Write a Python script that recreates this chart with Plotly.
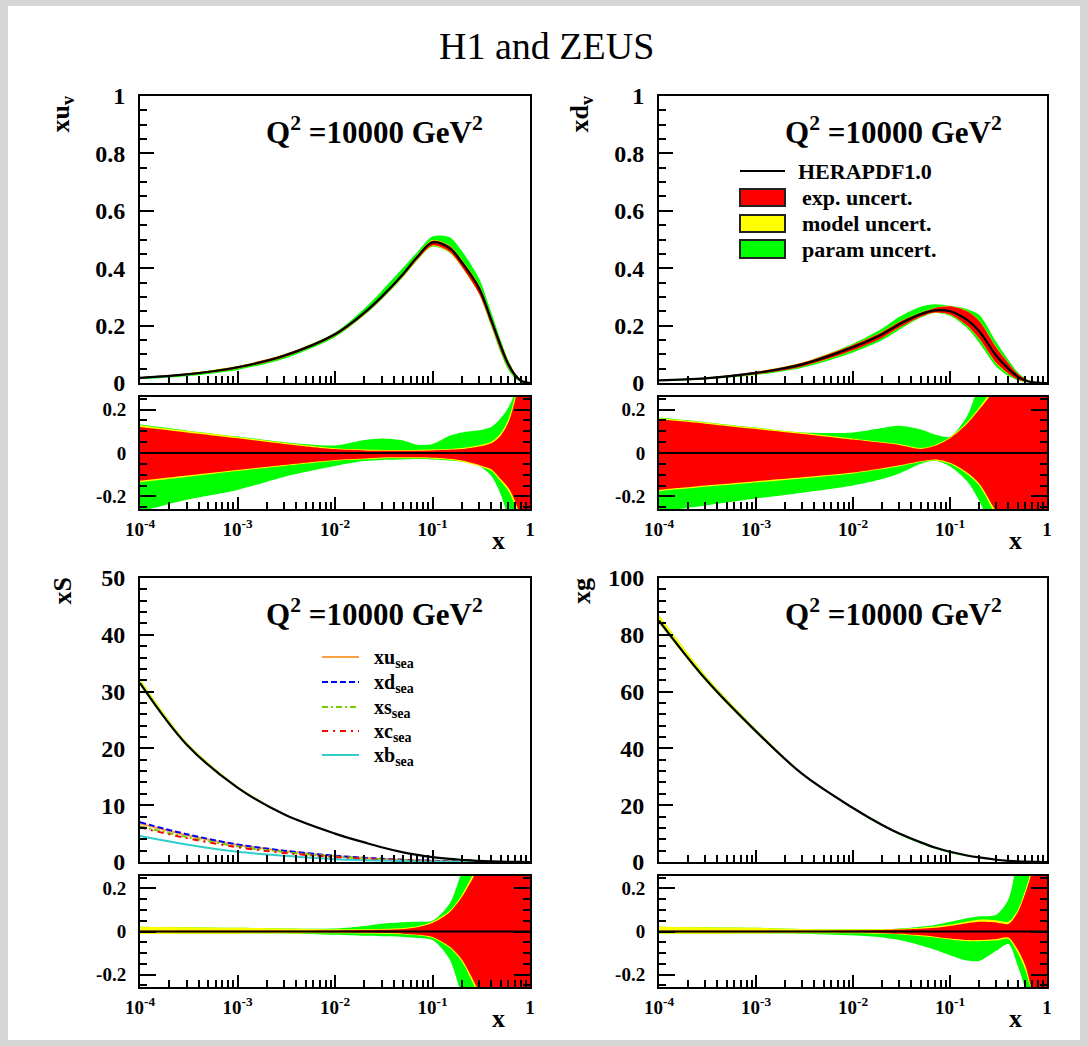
import plotly.graph_objects as go

W, H = 1088, 1046

# ---------------- data ----------------
X = [1e-4, 3e-4, 1e-3, 3e-3, 0.01, 0.02, 0.03, 0.05, 0.07, 0.1,
     0.15, 0.2, 0.3, 0.4, 0.5, 0.6, 0.7, 0.8, 0.9, 1.0]

XUV = [0.018, 0.030, 0.055, 0.095, 0.170, 0.245, 0.300, 0.380, 0.440, 0.490,
       0.470, 0.420, 0.330, 0.220, 0.130, 0.065, 0.028, 0.009, 0.002, 0.0]
XDV = [0.009, 0.016, 0.035, 0.065, 0.125, 0.170, 0.205, 0.240, 0.253, 0.250,
       0.220, 0.180, 0.095, 0.050, 0.022, 0.009, 0.003, 0.001, 0.0, 0.0]
XS = [31.5, 20.7, 13.1, 8.4, 5.0, 3.45, 2.6, 1.7, 1.25, 0.87,
      0.55, 0.40, 0.20, 0.11, 0.055, 0.028, 0.013, 0.006, 0.002, 0.0]
XG = [85.0, 64.5, 46.0, 31.0, 19.0, 13.0, 10.0, 6.9, 5.1, 3.6,
      2.3, 1.6, 0.8, 0.42, 0.21, 0.10, 0.045, 0.020, 0.006, 0.0]

XU_SEA = [6.8, 4.75, 3.0, 1.93, 1.05, 0.72, 0.55, 0.38, 0.28, 0.20,
          0.12, 0.085, 0.04, 0.022, 0.010, 0.005, 0.002, 0.001, 0.0, 0.0]
XD_SEA = [7.0, 4.9, 3.1, 2.0, 1.1, 0.75, 0.58, 0.40, 0.30, 0.21,
          0.13, 0.09, 0.045, 0.025, 0.012, 0.006, 0.003, 0.001, 0.0, 0.0]
XS_SEA = [6.3, 4.4, 2.75, 1.75, 0.95, 0.62, 0.47, 0.31, 0.22, 0.15,
          0.09, 0.06, 0.028, 0.014, 0.007, 0.003, 0.001, 0.0, 0.0, 0.0]
XC_SEA = [6.1, 4.2, 2.6, 1.6, 0.85, 0.55, 0.41, 0.27, 0.19, 0.13,
          0.075, 0.05, 0.022, 0.011, 0.005, 0.002, 0.001, 0.0, 0.0, 0.0]
XB_SEA = [4.6, 3.1, 1.8, 1.1, 0.5, 0.33, 0.25, 0.16, 0.11, 0.075,
          0.045, 0.03, 0.013, 0.006, 0.003, 0.001, 0.0, 0.0, 0.0, 0.0]

# relative uncertainties (cumulative: exp, exp+model, total)
UV_EXP_UP = [0.120, 0.095, 0.068, 0.042, 0.018, 0.012, 0.010, 0.010, 0.010, 0.012,
             0.015, 0.018, 0.030, 0.045, 0.080, 0.140, 0.240, 0.350, 0.500, 0.800]
UV_MOD_UP = [0.128, 0.102, 0.074, 0.047, 0.022, 0.016, 0.014, 0.014, 0.014, 0.016,
             0.019, 0.023, 0.036, 0.052, 0.090, 0.155, 0.260, 0.380, 0.550, 0.850]
UV_TOT_UP = [0.131, 0.104, 0.076, 0.050, 0.035, 0.060, 0.067, 0.058, 0.038, 0.042,
             0.080, 0.095, 0.105, 0.120, 0.160, 0.210, 0.280, 0.400, 0.600, 0.900]
UV_EXP_DN = [-0.128, -0.104, -0.078, -0.055, -0.032, -0.025, -0.021, -0.020, -0.020, -0.022,
             -0.027, -0.035, -0.055, -0.075, -0.120, -0.160, -0.220, -0.300, -0.500, -0.800]
UV_MOD_DN = [-0.134, -0.110, -0.083, -0.060, -0.036, -0.029, -0.025, -0.024, -0.024, -0.026,
             -0.031, -0.040, -0.061, -0.082, -0.130, -0.175, -0.240, -0.330, -0.550, -0.850]
UV_TOT_DN = [-0.270, -0.215, -0.170, -0.110, -0.060, -0.037, -0.032, -0.030, -0.028, -0.030,
             -0.035, -0.040, -0.060, -0.105, -0.190, -0.300, -0.400, -0.500, -0.700, -0.900]

DV_EXP_UP = [0.155, 0.135, 0.110, 0.088, 0.062, 0.047, 0.037, 0.019, 0.033, 0.068,
             0.135, 0.200, 0.300, 0.380, 0.450, 0.500, 0.550, 0.600, 0.700, 0.800]
DV_MOD_UP = [0.161, 0.141, 0.116, 0.093, 0.066, 0.051, 0.041, 0.023, 0.037, 0.072,
             0.142, 0.210, 0.320, 0.400, 0.470, 0.520, 0.570, 0.620, 0.720, 0.820]
DV_TOT_UP = [0.163, 0.142, 0.117, 0.094, 0.095, 0.115, 0.125, 0.108, 0.085, 0.075,
             0.170, 0.320, 0.500, 0.600, 0.700, 0.750, 0.800, 0.850, 0.900, 0.950]
DV_EXP_DN = [-0.170, -0.150, -0.130, -0.112, -0.090, -0.070, -0.057, -0.038, -0.030, -0.045,
             -0.090, -0.140, -0.270, -0.350, -0.450, -0.500, -0.550, -0.600, -0.700, -0.800]
DV_MOD_DN = [-0.176, -0.156, -0.136, -0.117, -0.094, -0.074, -0.061, -0.042, -0.034, -0.050,
             -0.097, -0.150, -0.290, -0.370, -0.470, -0.520, -0.570, -0.620, -0.720, -0.820]
DV_TOT_DN = [-0.270, -0.242, -0.210, -0.183, -0.150, -0.120, -0.095, -0.050, -0.036, -0.062,
             -0.130, -0.220, -0.400, -0.500, -0.600, -0.650, -0.700, -0.750, -0.800, -0.900]

S_EXP_UP = [0.004, 0.004, 0.004, 0.004, 0.005, 0.007, 0.008, 0.012, 0.020, 0.040,
            0.090, 0.160, 0.300, 0.400, 0.500, 0.600, 0.700, 0.800, 0.900, 1.000]
S_MOD_UP = [0.022, 0.020, 0.017, 0.014, 0.010, 0.011, 0.012, 0.016, 0.024, 0.045,
            0.096, 0.170, 0.320, 0.420, 0.520, 0.620, 0.720, 0.820, 0.920, 1.000]
S_TOT_UP = [0.022, 0.020, 0.017, 0.014, 0.014, 0.026, 0.036, 0.043, 0.045, 0.050,
            0.130, 0.280, 0.500, 0.600, 0.700, 0.750, 0.800, 0.850, 0.900, 1.000]
S_EXP_DN = [-0.004, -0.004, -0.004, -0.004, -0.005, -0.006, -0.007, -0.010, -0.015, -0.025,
            -0.070, -0.130, -0.280, -0.400, -0.500, -0.600, -0.700, -0.800, -0.900, -1.000]
S_MOD_DN = [-0.012, -0.011, -0.010, -0.009, -0.008, -0.009, -0.010, -0.013, -0.018, -0.030,
            -0.076, -0.140, -0.300, -0.420, -0.520, -0.620, -0.720, -0.820, -0.920, -1.000]
S_TOT_DN = [-0.012, -0.011, -0.010, -0.010, -0.015, -0.020, -0.022, -0.025, -0.030, -0.040,
            -0.130, -0.300, -0.500, -0.600, -0.700, -0.750, -0.800, -0.850, -0.900, -1.000]

G_EXP_UP = [0.004, 0.004, 0.004, 0.004, 0.005, 0.007, 0.009, 0.013, 0.017, 0.025,
            0.038, 0.045, 0.042, 0.035, 0.090, 0.180, 0.280, 0.450, 0.650, 0.900]
G_MOD_UP = [0.022, 0.020, 0.017, 0.012, 0.010, 0.011, 0.013, 0.018, 0.023, 0.032,
            0.047, 0.055, 0.052, 0.045, 0.100, 0.195, 0.300, 0.470, 0.670, 0.920]
G_TOT_UP = [0.022, 0.020, 0.017, 0.012, 0.010, 0.011, 0.014, 0.022, 0.030, 0.045,
            0.062, 0.070, 0.078, 0.150, 0.350, 0.500, 0.600, 0.700, 0.800, 0.950]
G_EXP_DN = [-0.004, -0.004, -0.004, -0.004, -0.005, -0.008, -0.011, -0.018, -0.024, -0.033,
            -0.040, -0.040, -0.035, -0.028, -0.085, -0.160, -0.280, -0.450, -0.650, -0.900]
G_MOD_DN = [-0.010, -0.010, -0.009, -0.008, -0.008, -0.011, -0.014, -0.022, -0.028, -0.037,
            -0.045, -0.045, -0.042, -0.035, -0.100, -0.180, -0.300, -0.470, -0.670, -0.920]
G_TOT_DN = [-0.010, -0.010, -0.009, -0.010, -0.018, -0.028, -0.040, -0.065, -0.085, -0.110,
            -0.135, -0.137, -0.090, -0.058, -0.160, -0.270, -0.400, -0.550, -0.700, -0.950]

X_TICKS = [1e-4, 1e-3, 1e-2, 1e-1, 1]
X_TICK_TEXT = ["10<sup>-4</sup>", "10<sup>-3</sup>", "10<sup>-2</sup>", "10<sup>-1</sup>", "1"]
X_MINOR = [m * 10.0 ** e for e in (-4, -3, -2, -1) for m in range(2, 10)]
R_TICKS = [-0.2, 0, 0.2]
R_TICK_TEXT = ["-0.2", "0", "0.2"]

LEG_LABELS = ["HERAPDF1.0", "exp. uncert.", "model uncert.", "param uncert."]
SEA_LABELS = ["xu<sub>sea</sub>", "xd<sub>sea</sub>", "xs<sub>sea</sub>",
              "xc<sub>sea</sub>", "xb<sub>sea</sub>"]
Q2_TEXT = "Q<sup>2</sup> =10000 GeV<sup>2</sup>"

RED, YEL, GRN = "#ff0000", "#ffff00", "#00ff00"
FONT = "Liberation Serif"

# ---------------- layout geometry (pixels) ----------------
def px(v):
    return v / W

def py(v):
    return 1 - v / H

COLS = [(140, 530), (659, 1047)]
ROWS = [((96, 383), (397, 509)), ((578, 862), (876, 987))]

panels = [
    dict(c=XUV, eu=UV_EXP_UP, mu=UV_MOD_UP, tu=UV_TOT_UP, ed=UV_EXP_DN, md=UV_MOD_DN, td=UV_TOT_DN,
         yr=[0, 1], dt=0.2, mdt=0.05, title="xu<sub>v</sub>", col=0, row=0),
    dict(c=XDV, eu=DV_EXP_UP, mu=DV_MOD_UP, tu=DV_TOT_UP, ed=DV_EXP_DN, md=DV_MOD_DN, td=DV_TOT_DN,
         yr=[0, 1], dt=0.2, mdt=0.05, title="xd<sub>v</sub>", col=1, row=0),
    dict(c=XS, eu=S_EXP_UP, mu=S_MOD_UP, tu=S_TOT_UP, ed=S_EXP_DN, md=S_MOD_DN, td=S_TOT_DN,
         yr=[0, 50], dt=10, mdt=2, title="xS", col=0, row=1),
    dict(c=XG, eu=G_EXP_UP, mu=G_MOD_UP, tu=G_TOT_UP, ed=G_EXP_DN, md=G_MOD_DN, td=G_TOT_DN,
         yr=[0, 100], dt=20, mdt=4, title="xg", col=1, row=1),
]

fig = go.Figure()
layout = dict(template="none", width=W, height=H,
              margin=dict(l=0, r=0, t=0, b=0, pad=0, autoexpand=False),
              paper_bgcolor="#d6d6d6", plot_bgcolor="white", showlegend=False,
              font=dict(family=FONT, color="black"))
shapes = [dict(type="rect", xref="paper", yref="paper", x0=px(8), x1=px(1080), y0=py(1040), y1=py(6),
               fillcolor="white", line=dict(width=0), layer="below")]
annotations = []

TICKF = dict(family=FONT, size=24, color="black", weight="bold")
TICKR = dict(family=FONT, size=19, color="black", weight="bold")
TICKX = dict(family=FONT, size=19, color="black", weight="bold")


def band(xa, ya, lo, hi, color):
    fig.add_trace(go.Scatter(x=X, y=lo, xaxis=xa, yaxis=ya, mode="lines",
                             line=dict(width=0, shape="spline", smoothing=0.8), hoverinfo="skip"))
    fig.add_trace(go.Scatter(x=X, y=hi, xaxis=xa, yaxis=ya, mode="lines", fill="tonexty",
                             fillcolor=color, line=dict(width=0, shape="spline", smoothing=0.8),
                             hoverinfo="skip"))


def note(x, y, text, size, bold=True, xanchor="center", yanchor="middle", angle=0):
    annotations.append(dict(xref="paper", yref="paper", x=px(x), y=py(y), text=text, showarrow=False,
                            xanchor=xanchor, yanchor=yanchor, textangle=angle,
                            font=dict(family=FONT, size=size, color="black",
                                      weight="bold" if bold else "normal")))


for i, p in enumerate(panels):
    nm = 2 * i + 1
    nr = 2 * i + 2
    xa_m, ya_m = f"x{nm}", f"y{nm}"
    xa_r, ya_r = f"x{nr}", f"y{nr}"
    c = p["c"]
    # main panel bands
    for up, dn, col in ((p["tu"], p["td"], GRN), (p["mu"], p["md"], YEL), (p["eu"], p["ed"], RED)):
        band(xa_m, ya_m, [v * (1 + d) for v, d in zip(c, dn)], [v * (1 + u) for v, u in zip(c, up)], col)
    if i == 2:
        for arr, colr, dash in ((XU_SEA, "#ffa040", "solid"), (XD_SEA, "#0000ff", "6px,3px"),
                                (XS_SEA, "#77cc00", "6px,3px,2px,3px"), (XC_SEA, "#ff0000", "6px,5px,2px,5px"),
                                (XB_SEA, "#33cccc", "solid")):
            fig.add_trace(go.Scatter(x=X, y=arr, xaxis=xa_m, yaxis=ya_m, mode="lines",
                                     line=dict(color=colr, width=2, dash=dash, shape="spline"),
                                     hoverinfo="skip"))
    fig.add_trace(go.Scatter(x=X, y=c, xaxis=xa_m, yaxis=ya_m, mode="lines",
                             line=dict(color="black", width=2.2, shape="spline"), hoverinfo="skip"))
    # ratio panel
    band(xa_r, ya_r, p["td"], p["tu"], GRN)
    band(xa_r, ya_r, p["md"], p["mu"], YEL)
    band(xa_r, ya_r, p["ed"], p["eu"], RED)
    fig.add_trace(go.Scatter(x=[X[0], X[-1]], y=[0, 0], xaxis=xa_r, yaxis=ya_r, mode="lines",
                             line=dict(color="black", width=2), hoverinfo="skip"))

    x0, x1 = COLS[p["col"]]
    (m0, m1), (r0, r1) = ROWS[p["row"]]
    xbase = dict(type="log", range=[-4, 0], showgrid=False, zeroline=False, showline=True, automargin=False,
                 linecolor="black", linewidth=2, mirror=True, ticks="inside", ticklen=12,
                 tickwidth=1.5, tickcolor="black", tickvals=X_TICKS, ticktext=X_TICK_TEXT,
                 tickfont=TICKX, domain=[px(x0), px(x1)],
                 minor=dict(tickmode="array", tickvals=X_MINOR, ticks="inside", ticklen=7,
                            tickwidth=1.5, tickcolor="black", showgrid=False))
    layout[f"xaxis{nm}"] = dict(xbase, anchor=ya_m, showticklabels=False)
    layout[f"xaxis{nr}"] = dict(xbase, anchor=ya_r, showticklabels=True, ticklabelstandoff=2)
    layout[f"yaxis{nm}"] = dict(range=p["yr"], domain=[py(m1), py(m0)], anchor=xa_m, showgrid=False,
                                zeroline=False, showline=True, linecolor="black", linewidth=2, mirror=True,
                                automargin=False,
                                ticks="inside", ticklen=14, tickwidth=1.5, tickcolor="black",
                                dtick=p["dt"], tick0=0, tickfont=TICKF, ticklabelstandoff=8,
                                minor=dict(dtick=p["mdt"], tick0=0, ticks="inside", ticklen=7,
                                           tickwidth=1.5, tickcolor="black", showgrid=False))
    layout[f"yaxis{nr}"] = dict(range=[-0.258, 0.258], domain=[py(r1), py(r0)], anchor=xa_r, showgrid=False,
                                zeroline=False, showline=True, linecolor="black", linewidth=2, mirror="ticks",
                                automargin=False,
                                ticks="inside", ticklen=16, tickwidth=1.5, tickcolor="black",
                                tickvals=R_TICKS, ticktext=R_TICK_TEXT, tickfont=TICKR, ticklabelstandoff=8,
                                minor=dict(dtick=0.05, tick0=0, ticks="inside", ticklen=7,
                                           tickwidth=1.5, tickcolor="black", showgrid=False))
    # annotations: Q2, y title, x label
    note(x0 + 234, m0 + 34, Q2_TEXT, 31)
    note(x0 - 78, m0 - 2, p["title"], 26, yanchor="top", angle=-90)
    note(x1 - 32, r1 + 31, "x", 26)

# title
note(546, 46, "H1 and ZEUS", 38, bold=False)

# HERAPDF legend (top-right)
shapes.append(dict(type="line", xref="paper", yref="paper", x0=px(740), x1=px(785), y0=py(171), y1=py(171),
                   line=dict(color="black", width=2)))
for (ya, yb), colr in (((189, 206), RED), ((215, 232), YEL), ((240, 258), GRN)):
    shapes.append(dict(type="rect", xref="paper", yref="paper", x0=px(740), x1=px(785), y0=py(yb), y1=py(ya),
                       fillcolor=colr, line=dict(color="#222222", width=2)))
for lab, yy, xx in zip(LEG_LABELS, (172, 198, 224, 249), (796, 800, 800, 800)):
    note(xx, yy, lab, 22, xanchor="left")

# sea legend (bottom-left)
for lab, yy, colr, dash in zip(SEA_LABELS, (657, 682, 707, 731, 755),
                               ("#ffa040", "#0000ff", "#77cc00", "#ff0000", "#33cccc"),
                               ("solid", "6px,3px", "6px,3px,2px,3px", "6px,5px,2px,5px", "solid")):
    shapes.append(dict(type="line", xref="paper", yref="paper", x0=px(322), x1=px(359), y0=py(yy), y1=py(yy),
                       line=dict(color=colr, width=2, dash=dash)))
    note(372, yy + 1, lab, 20, xanchor="left")

layout["shapes"] = shapes
layout["annotations"] = annotations
fig.update_layout(**layout)
fig.write_html("out.html")
